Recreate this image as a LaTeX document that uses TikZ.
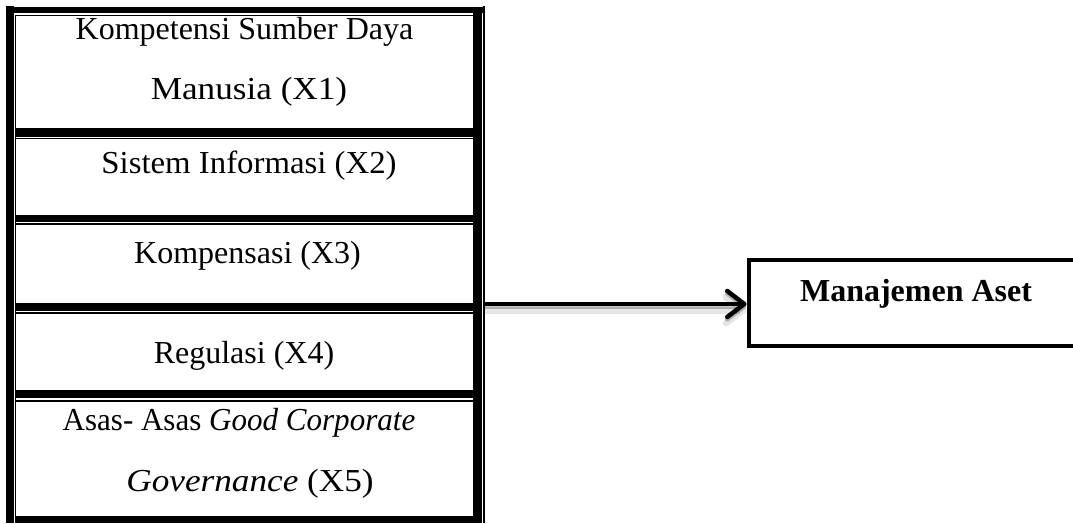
\documentclass[tikz,border=0pt]{standalone}
\usepackage{fontspec}
\setmainfont{Liberation Serif}
\usetikzlibrary{arrows.meta}
\newcommand{\hstr}[1]{\addfontfeature{FakeStretch=#1}}
\begin{document}
\begin{tikzpicture}[x=1pt,y=-1pt,
  txt/.style={font=\fontsize{32}{38}\selectfont, anchor=base, inner sep=0pt},
  txtb/.style={font=\fontsize{32}{38}\selectfont\bfseries, anchor=base, inner sep=0pt},
  conn/.style={line width=4.5pt, -{Straight Barb[length=17pt,width=26pt,round]}},
  shadowconn/.style={conn, draw=black, opacity=#1},
  target/.style={draw, line width=4.5pt, inner sep=0pt, anchor=north west,
    minimum width=500pt, minimum height=85.8pt}]
\clip (0,0) rectangle (1073,523);
\fill[white] (0,0) rectangle (1073,523);
% outer frame of the left column
\fill (6,6) rectangle (14,523);
\fill (14.8,14.8) rectangle (16.3,523);
\fill (6,6.7) rectangle (482.7,13.3);
\fill (16.3,14.7) rectangle (473.3,16.3);
\fill (473.3,13.3) rectangle (481.7,523);
\fill (483,6) rectangle (485,523);
% separators between boxes
\foreach \a/\b/\c in {128.3/136.6/137.6, 214.6/221.8/223.2, 302.5/310.7/312.3, 390/398.3/400.2}{
  \fill (16.3,\a) rectangle (473.3,\b);
  \fill (16.3,\c) rectangle (473.3,\c+1.5);
}
\fill (16.3,515.7) rectangle (473.3,522.5);
% texts
\node[txt] (x1a) at (244.5,39.2) {Kompetensi Sumber Daya};
\node[txt] (x1b) at (249,99) {\hstr{1.1}Manusia (X1)};
\node[txt] (x2) at (249,173.5) {\hstr{1.025}Sistem Informasi (X2)};
\node[txt] (x3) at (247.5,263) {Kompensasi (X3)};
\node[txt] (x4) at (244,363) {Regulasi (X4)};
\node[txt] (x5a) at (239,430.5) {\hstr{0.97}Asas- Asas \textit{Good Corporate}};
\node[txt] (x5b) at (250,491.5) {\hstr{1.1}\textit{Governance} (X5)};
% target box
\node[target] (ma) at (746.5,257.7) {};
\node[txtb] (mat) at (916,301) {Manajemen Aset};
% arrow
\coordinate (src) at (483,304);
\draw[shadowconn=0.10, line width=7pt, transform canvas={yshift=-6pt}] (src) -- (src -| ma.west);
\draw[shadowconn=0.22, transform canvas={yshift=-2.5pt}] (src) -- (src -| ma.west);
\draw[conn] (src) -- (src -| ma.west);
\end{tikzpicture}
\end{document}
